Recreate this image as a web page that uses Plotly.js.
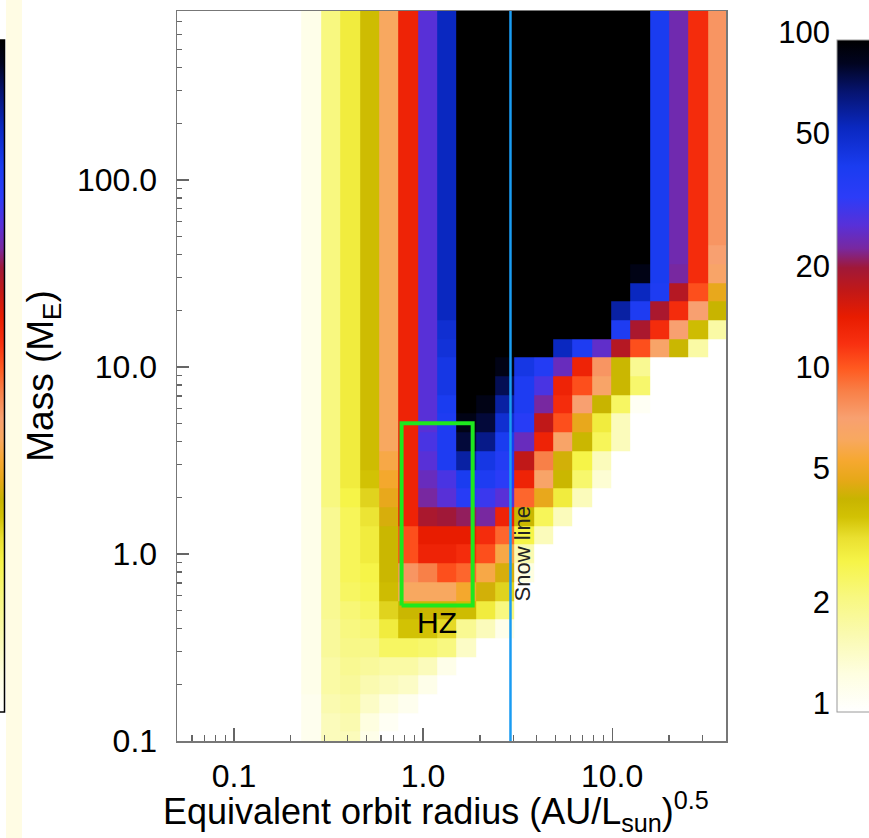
<!DOCTYPE html>
<html>
<head>
<meta charset="utf-8">
<script src="https://cdn.plot.ly/plotly-3.0.1.min.js"></script>
<style>html,body{margin:0;padding:0;background:#fff;}#chart{width:869px;height:838px;}</style>
</head>
<body>
<div id="chart"></div>
<script>
// ---- data ----
// bin edges of the orbit-radius grid (AU/Lsun^0.5)
const RADIUS_EDGES = [0.0438,0.0555,0.0702,0.0889,0.1125,0.1423,0.1801,0.2280,0.2885,0.3651,0.4621,0.5848,0.7401,0.9367,1.1855,1.5003,1.8988,2.4032,3.0409,3.848,4.870,6.164,7.801,9.874,12.50,15.82,20.01,25.33,32.06,40.58];
// bin edges of the mass grid (Earth masses)
const MASS_EDGES = [0.0891,0.1122,0.1413,0.1778,0.2239,0.2818,0.3548,0.4467,0.5623,0.7079,0.8913,1.122,1.413,1.778,2.239,2.818,3.548,4.467,5.623,7.079,8.913,11.22,14.13,17.78,22.39,28.18,35.48,44.67,56.23,70.79,89.13,112.2,141.3,177.8,223.9,281.8,354.8,446.7,562.3,707.9,891.3];
// cell values, listed from the TOP row (highest mass) down to the bottom row
const ROWS_TOP_DOWN = [
 [1,1,1,1,1,1,1,1.2,2.2,3.0,4.0,6.5,14,28,55,100,100,100,100,100,100,100,100,100,100,42,25,13,8],
 [1,1,1,1,1,1,1,1.2,2.2,3.0,4.0,6.5,14,28,55,100,100,100,100,100,100,100,100,100,100,42,25,13,8],
 [1,1,1,1,1,1,1,1.2,2.2,3.0,4.0,6.5,14,28,55,100,100,100,100,100,100,100,100,100,100,42,25,13,8],
 [1,1,1,1,1,1,1,1.2,2.2,3.0,4.0,6.5,14,28,55,100,100,100,100,100,100,100,100,100,100,42,25,13,8],
 [1,1,1,1,1,1,1,1.2,2.2,3.0,4.0,6.5,14,28,55,100,100,100,100,100,100,100,100,100,100,42,25,13,8],
 [1,1,1,1,1,1,1,1.2,2.2,3.0,4.0,6.5,14,28,55,100,100,100,100,100,100,100,100,100,100,42,25,13,8],
 [1,1,1,1,1,1,1,1.2,2.2,3.0,4.0,6.5,14,28,55,100,100,100,100,100,100,100,100,100,100,42,25,13,8],
 [1,1,1,1,1,1,1,1.2,2.2,3.0,4.0,6.5,14,28,55,100,100,100,100,100,100,100,100,100,100,42,25,13,8],
 [1,1,1,1,1,1,1,1.2,2.2,3.0,4.0,6.5,14,28,55,100,100,100,100,100,100,100,100,100,100,42,25,13,8],
 [1,1,1,1,1,1,1,1.2,2.2,3.0,4.0,6.5,14,28,55,100,100,100,100,100,100,100,100,100,100,42,25,13,8],
 [1,1,1,1,1,1,1,1.2,2.2,3.0,4.0,6.5,14,28,55,100,100,100,100,100,100,100,100,100,100,42,25,13,8],
 [1,1,1,1,1,1,1,1.2,2.2,3.0,4.0,6.5,14,28,55,100,100,100,100,100,100,100,100,100,100,42,25,13,8],
 [1,1,1,1,1,1,1,1.2,2.2,3.0,4.0,6.5,14,28,55,100,100,100,100,100,100,100,100,100,100,42,25,13,8],
 [1,1,1,1,1,1,1,1.2,2.2,3.0,4.0,6.5,14,28,55,100,100,100,100,100,100,100,100,100,100,42,25,13,7.5],
 [1,1,1,1,1,1,1,1.2,2.2,3.0,4.0,6.5,14,28,55,100,100,100,100,100,100,100,100,100,90,42,24,13,7],
 [1,1,1,1,1,1,1,1.2,2.2,3.0,4.0,6.5,14,28,55,100,100,100,100,100,100,100,100,100,55,40,19,11,5],
 [1,1,1,1,1,1,1,1.2,2.2,3.0,4.0,6.5,14,28,55,100,100,100,100,100,100,100,100,60,40,20,13,7.5,4.3],
 [1,1,1,1,1,1,1,1.2,2.2,3.0,4.0,6.5,14,28,50,100,100,100,100,100,100,100,100,40,20,13,7.5,4.0,1.8],
 [1,1,1,1,1,1,1,1.2,2.2,3.0,4.0,6.5,14,28,48,100,100,100,100,100,55,40,27,19,11,7,4.2,1.8,1],
 [1,1,1,1,1,1,1,1.2,2.2,3.0,4.0,6.5,14,28,45,100,100,90,45,38,26,14,8,4.2,2.0,1,1,1,1],
 [1,1,1,1,1,1,1,1.2,2.2,3.0,4.0,6.5,14,28,45,100,100,75,40,30,14,11,7,4.2,2.4,1,1,1,1],
 [1,1,1,1,1,1,1,1.2,2.2,3.0,4.0,6.5,14,28,42,100,90,60,40,24,13,7.5,4.3,2.5,1.1,1,1,1,1],
 [1,1,1,1,1,1,1,1.2,2.2,3.0,4.0,6.5,14,28,40,90,80,50,36,18,11,5,3.0,1.6,1,1,1,1,1],
 [1,1,1,1,1,1,1,1.2,2.2,3.0,4.0,6.5,14,30,40,80,65,42,26,14,7,4.2,2.6,1.6,1,1,1,1,1],
 [1,1,1,1,1,1,1,1.2,2.2,3.0,4.0,6.0,14,28,40,60,45,38,18,9,4.5,2.8,1.6,1,1,1,1,1,1],
 [1,1,1,1,1,1,1,1.2,2.2,3.0,3.8,5.5,14,26,30,42,40,35,14,7,4.2,2.4,1.4,1,1,1,1,1,1],
 [1,1,1,1,1,1,1,1.2,2.2,2.8,3.5,5.0,14,24,28,36,32,28,10,5,3.0,1.6,1,1,1,1,1,1,1],
 [1,1,1,1,1,1,1,1.2,2.0,2.6,3.2,4.6,14,20,21,22,24,14,4.2,2.6,1.6,1,1,1,1,1,1,1,1],
 [1,1,1,1,1,1,1,1.2,2.0,2.6,3.0,4.2,11,15,15,15,13,10,2.8,1.6,1,1,1,1,1,1,1,1,1],
 [1,1,1,1,1,1,1,1.2,2.0,2.6,3.0,4.2,11,14,14,13,11,6,1.7,1,1,1,1,1,1,1,1,1,1],
 [1,1,1,1,1,1,1,1.2,2.0,2.6,2.8,4.2,8,9,11,10,6,4.6,1.3,1,1,1,1,1,1,1,1,1,1],
 [1,1,1,1,1,1,1,1.2,2.0,2.5,2.7,4.0,6.5,6.5,6.5,5.5,4.5,3.5,1,1,1,1,1,1,1,1,1,1,1],
 [1,1,1,1,1,1,1,1.2,2.0,2.3,2.5,3.5,4.2,4.2,4.2,4.0,3.0,2.2,1,1,1,1,1,1,1,1,1,1,1],
 [1,1,1,1,1,1,1,1.2,1.9,2.2,2.3,3.0,3.8,3.8,3.4,2.0,1.6,1.2,1,1,1,1,1,1,1,1,1,1,1],
 [1,1,1,1,1,1,1,1.2,1.9,2.1,2.1,2.5,2.5,2.4,2.2,1.5,1,1,1,1,1,1,1,1,1,1,1,1,1],
 [1,1,1,1,1,1,1,1.2,1.8,2.0,1.9,1.8,1.8,1.6,1.2,1,1,1,1,1,1,1,1,1,1,1,1,1,1],
 [1,1,1,1,1,1,1,1.2,1.8,1.9,1.7,1.6,1.5,1.2,1,1,1,1,1,1,1,1,1,1,1,1,1,1,1],
 [1,1,1,1,1,1,1,1.15,1.7,1.8,1.5,1.3,1.15,1,1,1,1,1,1,1,1,1,1,1,1,1,1,1,1],
 [1,1,1,1,1,1,1,1.15,1.6,1.7,1.3,1.1,1,1,1,1,1,1,1,1,1,1,1,1,1,1,1,1,1],
 [1,1,1,1,1,1,1,1.15,1.6,1.6,1.2,1,1,1,1,1,1,1,1,1,1,1,1,1,1,1,1,1,1]
];
const SNOW_LINE = 2.9;
const HZ_RADIUS = [0.77, 1.83];
const HZ_MASS = [0.53, 5.0];
const CBAR_TICKS = [1, 2, 5, 10, 20, 50, 100];
const CBAR_LABELS = ['1', '2', '5', '10', '20', '50', '100'];
const X_TICKS = [0.1, 1, 10];
const X_LABELS = ['0.1', '1.0', '10.0'];
const Y_TICKS = [0.1, 1, 10, 100];
const Y_LABELS = ['0.1', '1.0', '10.0', '100.0'];

// ---- styling ----
const FONT = 'Liberation Sans, Arial, Helvetica, sans-serif';
const L = (v) => Math.log10(v);
const COLORSCALE = [
 [0.000,'#ffffff'],[0.057,'#fefee0'],[0.115,'#fafab0'],[0.171,'#f8f880'],
 [0.224,'#f6f448'],[0.259,'#eae030'],[0.290,'#d2c204'],[0.317,'#c8b400'],
 [0.345,'#e6a818'],[0.374,'#f6a830'],[0.406,'#f8a860'],[0.4375,'#f8a070'],
 [0.477,'#f88048'],[0.511,'#ff5a20'],[0.548,'#f83010'],[0.588,'#e81c00'],
 [0.628,'#c01818'],[0.661,'#a01838'],[0.690,'#7828a0'],[0.724,'#5830d8'],
 [0.766,'#2c3cf8'],[0.812,'#1a3cf0'],[0.870,'#0a28c0'],[0.923,'#061470'],
 [0.965,'#010420'],[1.000,'#000000']
];

const W = 869, H = 838;
const M = {l: 177, r: 0, t: 11, b: 97};
const PW = W - M.l - M.r, PH = H - M.t - M.b;
const px2x = (px) => (px - M.l) / PW;
const py2y = (py) => (H - M.b - py) / PH;

const zRows = ROWS_TOP_DOWN.slice().reverse().map(r => r.map(v => L(v)));

const traces = [
 {
  type: 'heatmap', x: RADIUS_EDGES, y: MASS_EDGES, z: zRows,
  zmin: 0, zmax: 2, colorscale: COLORSCALE, zsmooth: false, hoverinfo: 'skip',
  showscale: true,
  colorbar: {x: px2x(837), xanchor: 'left', thickness: 40, thicknessmode: 'pixels',
   len: py2y(40) - py2y(712), lenmode: 'fraction', y: py2y(712), yanchor: 'bottom',
   xpad: 0, ypad: 0, outlinewidth: 1, outlinecolor: '#9a9a9a', showticklabels: false, ticks: ''}
 },
 {
  type: 'scatter', mode: 'lines', x: [SNOW_LINE, SNOW_LINE], y: [0.1, 800],
  line: {color: '#1a9cf2', width: 2.5}, hoverinfo: 'skip', showlegend: false
 },
 {
  type: 'scatter', mode: 'lines',
  x: [HZ_RADIUS[0], HZ_RADIUS[1], HZ_RADIUS[1], HZ_RADIUS[0], HZ_RADIUS[0]],
  y: [HZ_MASS[0], HZ_MASS[0], HZ_MASS[1], HZ_MASS[1], HZ_MASS[0]],
  line: {color: '#1ee81e', width: 4}, hoverinfo: 'skip', showlegend: false
 },
 // holder for the colour-bar label axis
 {type: 'scatter', x: [], y: [], xaxis: 'x2', yaxis: 'y2', hoverinfo: 'skip', showlegend: false},
 // cut-off colour bar of the neighbouring panel at the far left
 {
  type: 'scatter', mode: 'markers', x: [null, null], y: [null, null], xaxis: 'x2', yaxis: 'y2',
  showlegend: false, hoverinfo: 'skip',
  marker: {color: [0, 2], cmin: 0, cmax: 2, colorscale: COLORSCALE, showscale: true,
   colorbar: {x: px2x(6), xanchor: 'right', thickness: 40, thicknessmode: 'pixels',
    len: py2y(40) - py2y(712), lenmode: 'fraction', y: py2y(712), yanchor: 'bottom',
    xpad: 0, ypad: 0, outlinewidth: 1.5, outlinecolor: '#000', showticklabels: false, ticks: ''}}
 }
];

const axisCommon = {
 showgrid: false, zeroline: false, showline: true, linecolor: '#777', linewidth: 1.5, mirror: true,
 ticks: 'inside', tickcolor: '#666', tickwidth: 1.2,
 tickfont: {family: FONT, size: 32, color: '#000'}
};

const layout = {
 width: W, height: H, margin: {l: M.l, r: M.r, t: M.t, b: M.b, autoexpand: false},
 paper_bgcolor: '#fff', plot_bgcolor: '#fff', showlegend: false,
 xaxis: Object.assign({}, axisCommon, {
  type: 'log', range: [L(0.05), L(40)], domain: [0, 549 / PW], anchor: 'y',
  tickmode: 'array', tickvals: X_TICKS, ticktext: X_LABELS, ticklen: 13,
  ticklabelstandoff: 6,
  minor: {ticks: 'inside', ticklen: 6, dtick: 'D1', tickcolor: '#666', tickwidth: 1.2, showgrid: false}
 }),
 yaxis: Object.assign({}, axisCommon, {
  type: 'log', range: [L(0.1), L(800)], domain: [0, 1], anchor: 'x',
  tickmode: 'array', tickvals: Y_TICKS, ticktext: Y_LABELS, ticklen: 12,
  ticklabelstandoff: 12,
  minor: {ticks: 'inside', ticklen: 5, dtick: 'D1', tickcolor: '#666', tickwidth: 1.2, showgrid: false},
  title: {text: 'Mass (M<sub>E</sub>)', standoff: 12, font: {family: FONT, size: 37, color: '#000'}}
 }),
 xaxis2: {domain: [px2x(837), 1], anchor: 'y2', range: [0, 1], visible: false, fixedrange: true},
 yaxis2: {domain: [py2y(703), py2y(32)], anchor: 'x2', type: 'log', range: [0, 2], side: 'left',
  showgrid: false, zeroline: false, showline: false, ticks: '',
  tickmode: 'array', tickvals: CBAR_TICKS, ticktext: CBAR_LABELS, ticklabelstandoff: 6,
  tickfont: {family: FONT, size: 31, color: '#000'}},
 shapes: [
  {type: 'rect', xref: 'paper', yref: 'paper', x0: px2x(6), x1: px2x(22), y0: py2y(H), y1: py2y(0),
   fillcolor: '#fffce4', line: {width: 0}, layer: 'below'}
 ],
 annotations: [
  {x: px2x(436), y: py2y(838), xref: 'paper', yref: 'paper', showarrow: false,
   text: 'Equivalent orbit radius (AU/L<sub>sun</sub>)<sup>0.5</sup>', borderpad: 0,
   font: {family: FONT, size: 36, color: '#000'}, xanchor: 'center', yanchor: 'bottom'},
  {x: L(1.18), y: L(0.43), xref: 'x', yref: 'y', text: 'HZ', showarrow: false,
   font: {family: FONT, size: 30, color: '#000'}, xanchor: 'center', yanchor: 'middle'},
  {x: L(SNOW_LINE), y: L(1.0), xref: 'x', yref: 'y', text: 'Snow line', showarrow: false, textangle: -90,
   xshift: 12, font: {family: FONT, size: 22, color: '#222'}, xanchor: 'center', yanchor: 'middle'}
 ]
};

Plotly.newPlot('chart', traces, layout, {staticPlot: true, displayModeBar: false});
</script>
</body>
</html>
